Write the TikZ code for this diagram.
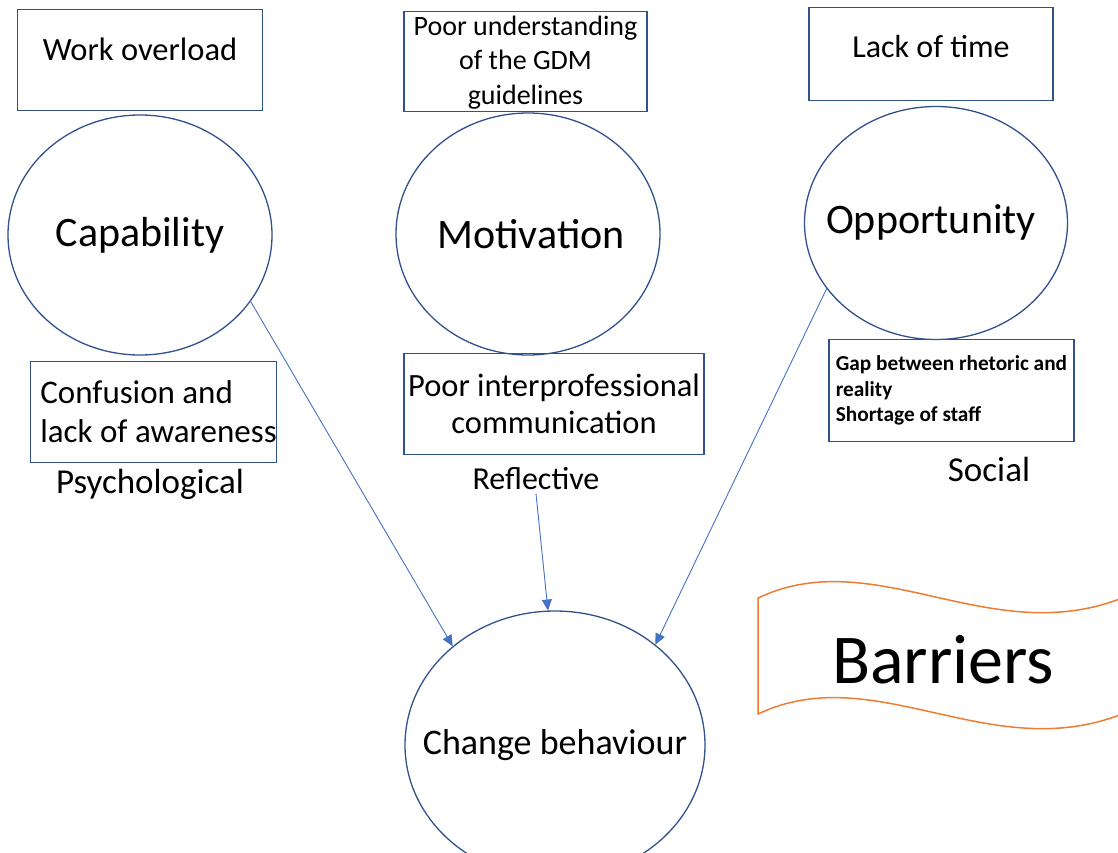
\documentclass[tikz,border=0pt]{standalone}
\usepackage{fontspec}
\setmainfont{Carlito}
\usepackage{tikz}
\usetikzlibrary{arrows.meta}
\usetikzlibrary{shapes.geometric}
\usetikzlibrary{positioning}

\definecolor{edgeblue}{HTML}{2F528F}
\definecolor{arrowblue}{HTML}{4472C4}
\definecolor{bannerorange}{HTML}{ED7D31}

\begin{document}
\begin{tikzpicture}[x=1pt,y=-1pt,>={Triangle[length=11pt,width=10pt]},
                    com node/.style={ellipse,draw=edgeblue,line width=1.3pt,inner sep=0pt,
                                     font=\fontsize{42}{50}\selectfont},
                    barrier box/.style={rectangle,draw=edgeblue,line width=1.5pt,inner sep=0pt,align=center},
                    link/.style={->,color=arrowblue,line width=0.9pt}]
                \useasboundingbox (0,0) rectangle (1118,852);
                \clip (0,0) rectangle (1118,852);

                % the three components and the target behaviour
                \node[com node,minimum width=264,minimum height=240] (cap) at (140,235) {\makebox[0pt]{Capability}};
                \node[com node,minimum width=264,minimum height=242] (mot) at (528,234) {\makebox[0pt]{\hspace*{6pt}Motivation}};
                \node[com node,minimum width=263,minimum height=233] (opp) at (936,223)
                    {\raisebox{8pt}{\makebox[0pt]{Opportunity\hspace*{10pt}}}};
                \node[com node,minimum width=300,minimum height=268,
                      font=\fontsize{36}{43}\selectfont] (chg) at (555,745) {\makebox[0pt]{Change behaviour}};

                % barriers above and below each component
                \node[barrier box,minimum width=245,minimum height=101,text height=22pt,text depth=21pt,
                      font=\fontsize{32.5}{38}\selectfont]
                    (work) [above=3pt of cap] {Work overload};
                \node[barrier box,minimum width=243,minimum height=100,text depth=3pt,
                      font=\fontsize{28}{34.5}\selectfont]
                    (gdm) [above=0pt of mot,xshift=-2.5pt] {Poor understanding\\of the GDM\\guidelines};
                \node[barrier box,minimum width=244,minimum height=93,text height=22pt,text depth=15pt,
                      font=\fontsize{32}{38}\selectfont]
                    (time) [above=4.5pt of opp,xshift=-5pt] {Lack of time};
                \node[barrier box,minimum width=243,minimum height=101,align=left,font=\fontsize{33}{39}\selectfont]
                    (conf) [below=5pt of cap,xshift=13.5pt] {\hspace*{10pt}Confusion and\\\hspace*{10pt}lack of awareness};
                \node[barrier box,minimum width=300,minimum height=101,font=\fontsize{32.5}{37}\selectfont]
                    (comm) [below=-3pt of mot,xshift=26pt] {Poor interprofessional\\communication};
                \node[barrier box,minimum width=245,minimum height=102,align=left,
                      font=\bfseries\fontsize{21.3}{25.5}\selectfont]
                    (gap) [below=-1.5pt of opp,xshift=15.5pt] {Gap between rhetoric and\\reality\\Shortage of staff};

                % sub-headings
                \node[font=\fontsize{35}{42}\selectfont] (psy) at (150,484) {Psychological};
                \node[font=\fontsize{32}{38}\selectfont] (refl) at (536,479) {Reflective};
                \node[font=\fontsize{35}{42}\selectfont] (soc) at (989,469) {Social};

                % banner
                \draw[bannerorange,line width=1.5pt]
                    (758,598) .. controls (880,540) and (1000,660) .. (1140,590)
                    -- (1140,706) .. controls (1000,776) and (880,656) .. (758,714) -- cycle;
                \node[font=\fontsize{70}{84}\selectfont] (bar) at (943,660) {Barriers};

                \path
                    (cap.-31) edge[link] (chg.136.6)
                    (refl.south) edge[link] (chg.93)
                    (opp.211) edge[link] (chg.45.6);
\end{tikzpicture}
\end{document}
